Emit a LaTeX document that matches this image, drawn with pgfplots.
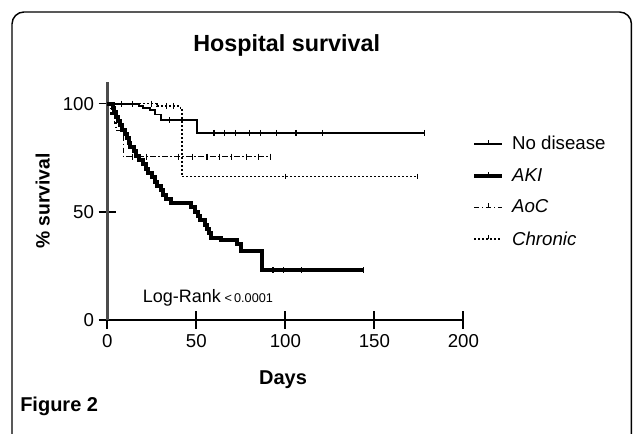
\documentclass[border=0pt]{standalone}
\usepackage{fontspec}
\setmainfont{Liberation Sans}
\usepackage{pgfplots}
\pgfplotsset{compat=1.18}

\begin{document}
\begin{tikzpicture}
% picture is 633 x 434 px, 1 px = 0.75pt, y runs downwards from the top edge
\path[use as bounding box] (0pt,0pt) rectangle (474.75pt,-325.5pt);
\draw[line width=1.1pt, rounded corners=9pt] (9pt,-9pt) rectangle (473.6pt,-360pt);

\node[font=\bfseries\fontsize{17.5}{20}\selectfont] at (215pt,-33.75pt) {Hospital survival};
\node[font=\bfseries\fontsize{14.5}{17}\selectfont, rotate=90] at (32pt,-150.75pt) {\% survival};
\node[font=\bfseries\fontsize{15}{18}\selectfont] at (212.25pt,-285pt) {Days};
\node[anchor=base west, inner sep=0pt] at (107pt,-227pt)
  {{\fontsize{13.5}{15}\selectfont Log-Rank} {\fontsize{9.5}{11}\selectfont <\,0.0001}};
\node[anchor=base west, inner sep=0pt, font=\bfseries\fontsize{15}{18}\selectfont] at (15pt,-309pt) {Figure 2};

\begin{axis}[
    at={(80.5pt,-240pt)}, anchor=origin,
    scale only axis, width=267pt, height=178.5pt,
    xmin=0, xmax=200, ymin=0, ymax=110,
    axis lines=left, axis line style={-},
    x axis line style={line width=1.4pt, black},
    y axis line style={line width=2pt, black!70},
    xtick={0,50,...,200}, ytick={0,50,100},
    tick align=center, major tick length=13pt,
    every tick/.style={black, line width=1.3pt},
    tick label style={font=\fontsize{14}{16}\selectfont},
    /pgf/number format/assume math mode=true,
    xticklabel style={yshift=-1pt},
    clip=false,
    legend style={draw=none, fill=none, inner sep=0pt,
      at={(1.024,0.785)}, anchor=north west,
      font=\fontsize{14}{17}\selectfont, row sep=8.5pt,
      nodes={inner xsep=6pt}},
    legend cell align=left,
    legend image code/.code={
      \draw[#1] (0pt,0pt) -- (21pt,0pt);
      \draw[solid, line width=0.8pt] (10.5pt,0pt) -- (10.5pt,3pt);
    },
]
% No disease
\addplot[const plot, black, line width=1.4pt] coordinates {
  (0,100)(18,99)(20,98)(24,97)(27,95)(30,92.5)(50.5,86.5)(178,86.5)};
\addlegendentry{No disease}
% AKI
\addplot[const plot, black, line width=3pt] coordinates {
  (0,100)(3,98)(4,96)(5,94)(6,92)(7,90)(8,88)(10,86)(11,84)(12,82)
  (13,80)(15,78)(16,76)(18,74)(20,72)(22,70)(23,68)(25,66)(27,64)
  (28,62)(30,60)(31,58)(33,56)(36,54)(47,52)(49,50)(51,48)(52,46)
  (55,44)(56,42)(57,40)(58,38)(64,37)(73,35)(75,32)(87,23)(144,23)};
\addlegendentry{\textit{AKI}}
% AoC
\addplot[const plot, black, line width=1.2pt,
  dash pattern=on 4pt off 2pt on 1pt off 2pt] coordinates {
  (0,100)(2,95)(4,91)(5,87.5)(9,75.5)(91.5,75.5)};
\addlegendentry{\textit{AoC}}
% Chronic
\addplot[const plot, black, line width=1.2pt,
  dash pattern=on 1.5pt off 1.5pt] coordinates {
  (0,100)(28,99)(41,98)(42,66.3)(174,66.3)};
\addlegendentry{\textit{Chronic}}

% censored observations
\addplot[only marks, mark=|, mark size=2.2pt, black, line width=1pt, forget plot]
  coordinates {(8,100)(14,100)(35,92.5)(42,92.5)(60,86.5)(66,86.5)(72,86.5)
  (80,86.5)(86,86.5)(95,86.5)(106,86.5)(121,86.5)(178,86.5)};
\addplot[only marks, mark=|, mark size=2.2pt, black, line width=1pt, forget plot]
  coordinates {(93,23)(99,23)(109,23)(144,23)};
\addplot[only marks, mark=|, mark size=2.2pt, black, line width=0.8pt, forget plot]
  coordinates {(14,75.5)(22,75.5)(40,75.5)(48,75.5)(56,75.5)(63,75.5)
  (70,75.5)(78,75.5)(85,75.5)(91.5,75.5)};
\addplot[only marks, mark=|, mark size=2.2pt, black, line width=0.8pt, forget plot]
  coordinates {(25,100)(33,99)(37,99)(100,66.3)(174,66.3)};
\end{axis}
\end{tikzpicture}
\end{document}
